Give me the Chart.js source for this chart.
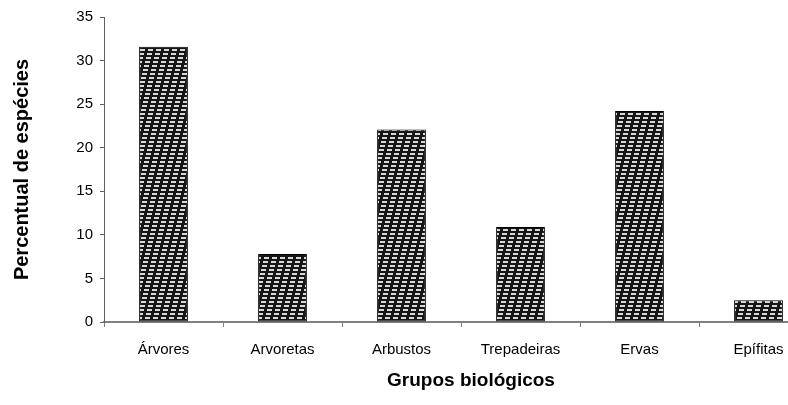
<!DOCTYPE html>
<html>
<head>
<meta charset="utf-8">
<script src="https://cdn.jsdelivr.net/npm/chart.js@4"></script>
<style>
  html, body { margin: 0; padding: 0; background: #fff; overflow: hidden; }
</style>
</head>
<body>
<canvas id="grafico" width="830" height="405"></canvas>
<script>
const categorias = ['Árvores', 'Arvoretas', 'Arbustos', 'Trepadeiras', 'Ervas', 'Epífitas'];
const percentual = [31.6, 7.8, 22.1, 10.9, 24.2, 2.5];
const ticksY = [0, 5, 10, 15, 20, 25, 30, 35];
const tituloX = 'Grupos biológicos';

// trama escura com tracinhos claros em diagonal
function criarTrama() {
    const c = document.createElement('canvas');
    c.width = 8;
    c.height = 32;
    const g = c.getContext('2d');
    g.fillStyle = '#161616';
    g.fillRect(0, 0, 8, 32);
    g.fillStyle = '#d8d8d8';
    for (let r = 0; r < 8; r++) {
        const y = r * 4 + 1;
        const x = (8 - r) % 8;
        g.fillRect(x, y, 5, 2);
        if (x + 5 > 8) g.fillRect(x - 8, y, 5, 2);
    }
    return g.createPattern(c, 'repeat');
}

window.onload = function() {
    const ctx = document.getElementById('grafico').getContext('2d');
    const fonte = 'Arial, "Liberation Sans", sans-serif';

    // titulo do eixo x um pouco deslocado para a direita, como no original
    const tituloEixoX = {
        id: 'tituloEixoX',
        afterDraw(chart) {
            const c = chart.ctx;
            c.save();
            c.font = 'bold 19px ' + fonte;
            c.fillStyle = '#000';
            c.textAlign = 'center';
            c.textBaseline = 'middle';
            c.fillText(tituloX, chart.chartArea.left + 367, chart.chartArea.bottom + 59);
            c.restore();
        }
    };

    new Chart(ctx, {
        type: 'bar',
        data: {
            labels: categorias,
            datasets: [{
                data: percentual,
                backgroundColor: criarTrama(),
                borderColor: '#000',
                borderWidth: 1,
                borderSkipped: false,
                categoryPercentage: 1,
                barPercentage: 0.41
            }]
        },
        options: {
            responsive: false,
            animation: false,
            layout: { padding: { top: 17, right: 12, bottom: 0, left: 0 } },
            plugins: { legend: { display: false }, tooltip: { enabled: false } },
            scales: {
                x: {
                    grid: { display: true, offset: true, drawOnChartArea: false, drawTicks: true, tickLength: 5, color: '#808080' },
                    border: { color: '#808080', width: 2 },
                    ticks: { color: '#000', font: { family: fonte, size: 15 }, padding: 14, maxRotation: 0 },
                    afterFit: s => { s.height = 83; }
                },
                y: {
                    min: 0,
                    max: 35,
                    afterBuildTicks: s => { s.ticks = ticksY.map(v => ({ value: v })); },
                    grid: { drawOnChartArea: false, drawTicks: true, tickLength: 4, color: '#606060' },
                    border: { color: '#606060', width: 1 },
                    ticks: { color: '#000', font: { family: fonte, size: 15 }, padding: 7 },
                    title: { display: true, text: 'Percentual de espécies', color: '#000', font: { family: fonte, size: 20, weight: 'bold' }, padding: { top: 10, bottom: 0 } },
                    afterFit: s => { s.width = 104; }
                }
            }
        },
        plugins: [tituloEixoX]
    });
};
</script>
</body>
</html>
